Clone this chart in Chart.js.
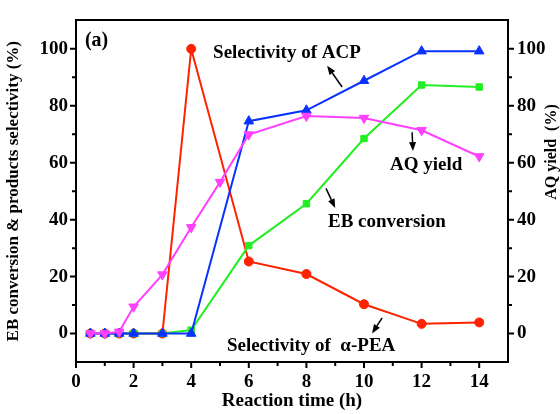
<!DOCTYPE html>
<html lang="en">
<head>
<meta charset="UTF-8">
<title>Reaction time</title>
<script src="https://cdn.jsdelivr.net/npm/chart.js"></script>
<style>
  body { margin: 0; background: #fff; }
</style>
</head>
<body>
<canvas id="myChart" width="560" height="414"></canvas>
<script>
// data
var times = [0.5, 1, 1.5, 2, 3, 4, 6, 8, 10, 12, 14];
var aqTimes = [0.5, 1, 1.5, 2, 3, 4, 5, 6, 8, 10, 12, 14];
var peaSelectivity = [0, 0, 0, 0, 0, 100, 25.3, 20.9, 10.3, 3.4, 3.9];
var ebConversion = [0, 0, 0, 0, 0, 1.2, 30.9, 45.6, 68.5, 87.3, 86.6];
var acpSelectivity = [0, 0, 0, 0, 0, 0, 74.6, 78.4, 88.8, 99.2, 99.2];
var aqYield = [0, 0, 0.6, 9.4, 20.7, 37.3, 53.2, 69.9, 76.4, 75.7, 71.4, 62.2];
var xTicks = [0, 2, 4, 6, 8, 10, 12, 14];
var yTicks = [0, 20, 40, 60, 80, 100];

var FONT = '"Liberation Serif", "Times New Roman", serif';

function points(xs, ys) {
    return xs.map(function (x, i) { return { x: x, y: ys[i] }; });
}

// text labels and arrows, placed in data units
var notes = [
    { text: '(a)', x: 0.31, y: 102.8, size: 20 },
    { text: 'Selectivity of ACP', x: 4.76, y: 98.6, size: 19 },
    { text: 'AQ yield', x: 10.9, y: 59, size: 19 },
    { text: 'EB conversion', x: 8.75, y: 39.3, size: 19 },
    { text: 'Selectivity of  \u03b1-PEA', x: 5.24, y: -4.5, size: 19 }
];
var arrows = [
    { from: [9.24, 86.6], to: [8.72, 94.1] },
    { from: [11.67, 70.7], to: [11.7, 64.1] },
    { from: [8.68, 51.0], to: [9.0, 44.1] },
    { from: [10.63, 5.5], to: [10.28, 0] }
];

var decorations = {
    id: 'decorations',
    afterDraw: function (chart) {
        var ctx = chart.ctx;
        var xs = chart.scales.x, ys = chart.scales.y;
        var area = chart.chartArea;
        ctx.save();
        ctx.strokeStyle = '#000';
        ctx.fillStyle = '#000';
        ctx.lineWidth = 2;

        // tick marks, outward, major + minor
        ctx.beginPath();
        for (var v = 0; v <= 14; v++) {
            var len = v % 2 === 0 ? 6 : 4;
            var px = xs.getPixelForValue(v);
            ctx.moveTo(px, area.bottom);
            ctx.lineTo(px, area.bottom + len);
        }
        for (var w = 0; w <= 100; w += 10) {
            var l = w % 20 === 0 ? 6 : 4;
            var py = ys.getPixelForValue(w);
            ctx.moveTo(area.left, py);
            ctx.lineTo(area.left - l, py);
            ctx.moveTo(area.right, py);
            ctx.lineTo(area.right + l, py);
        }
        ctx.stroke();

        // right axis title, reading bottom to top
        ctx.save();
        ctx.translate(552, 152);
        ctx.rotate(-Math.PI / 2);
        ctx.font = 'bold 16px ' + FONT;
        ctx.textAlign = 'center';
        ctx.textBaseline = 'middle';
        ctx.fillText('AQ yield  (%)', 0, 0);
        ctx.restore();

        // annotations
        ctx.textAlign = 'left';
        ctx.textBaseline = 'middle';
        notes.forEach(function (n) {
            ctx.font = 'bold ' + n.size + 'px ' + FONT;
            ctx.fillText(n.text, xs.getPixelForValue(n.x), ys.getPixelForValue(n.y));
        });

        ctx.lineWidth = 1.5;
        arrows.forEach(function (a) {
            var x1 = xs.getPixelForValue(a.from[0]), y1 = ys.getPixelForValue(a.from[1]);
            var x2 = xs.getPixelForValue(a.to[0]), y2 = ys.getPixelForValue(a.to[1]);
            var ang = Math.atan2(y2 - y1, x2 - x1);
            var hl = 9, hw = 3.5;
            var bx = x2 - hl * Math.cos(ang), by = y2 - hl * Math.sin(ang);
            ctx.beginPath();
            ctx.moveTo(x1, y1);
            ctx.lineTo(bx, by);
            ctx.stroke();
            ctx.beginPath();
            ctx.moveTo(x2, y2);
            ctx.lineTo(bx + hw * Math.sin(ang), by - hw * Math.cos(ang));
            ctx.lineTo(bx - hw * Math.sin(ang), by + hw * Math.cos(ang));
            ctx.closePath();
            ctx.fill();
        });
        ctx.restore();
    }
};

function series(label, xs, ys, color, style, radius, rotation, order) {
    return {
        label: label,
        data: points(xs, ys),
        borderColor: color,
        backgroundColor: color,
        borderWidth: 2,
        pointStyle: style,
        pointRadius: radius,
        pointRotation: rotation,
        pointBorderWidth: 1,
        order: order
    };
}

var tickFont = { family: FONT, size: 19, weight: 'bold' };
var border = { color: '#000', width: 2 };
var noGrid = { drawOnChartArea: false, drawTicks: false };

var ctx = document.getElementById('myChart').getContext('2d');
var myChart = new Chart(ctx, {
    type: 'line',
    data: {
        datasets: [
            series('Selectivity of \u03b1-PEA', times, peaSelectivity, '#ff2200', 'circle', 4.5, 0, 4),
            series('EB conversion', times, ebConversion, '#22ee22', 'rect', 4.5, 0, 3),
            series('Selectivity of ACP', times, acpSelectivity, '#0a32ff', 'triangle', 5.5, 0, 2),
            series('AQ yield', aqTimes, aqYield, '#ff40ff', 'triangle', 5.5, 180, 1)
        ]
    },
    options: {
        responsive: false,
        animation: false,
        layout: { padding: 0 },
        plugins: {
            legend: { display: false },
            tooltip: { enabled: false }
        },
        scales: {
            x: {
                type: 'linear', position: 'bottom', min: 0, max: 15,
                border: border, grid: noGrid,
                ticks: { font: tickFont, color: '#000', padding: 9 },
                afterBuildTicks: function (s) { s.ticks = xTicks.map(function (v) { return { value: v }; }); },
                afterFit: function (s) { s.height = 52; },
                title: {
                    display: true, text: 'Reaction time (h)', color: '#000',
                    font: { family: FONT, size: 19, weight: 'bold' },
                    padding: { top: 0, bottom: 2 }
                }
            },
            x2: {
                type: 'linear', position: 'top', min: 0, max: 15,
                border: border, grid: noGrid,
                ticks: { display: false },
                afterFit: function (s) { s.height = 16; }
            },
            y: {
                position: 'left', min: -10, max: 110,
                border: border, grid: noGrid,
                ticks: { font: tickFont, color: '#000', padding: 8 },
                afterBuildTicks: function (s) { s.ticks = yTicks.map(function (v) { return { value: v }; }); },
                afterFit: function (s) { s.width = 76; },
                title: {
                    display: true, text: 'EB conversion & products selectivity (%)', color: '#000',
                    font: { family: FONT, size: 17, weight: 'bold' },
                    padding: { top: 3, bottom: 0 }
                }
            },
            y2: {
                position: 'right', min: -10, max: 110,
                border: border, grid: noGrid,
                ticks: { font: tickFont, color: '#000', padding: 9 },
                afterBuildTicks: function (s) { s.ticks = yTicks.map(function (v) { return { value: v }; }); },
                afterFit: function (s) { s.width = 52; }
            }
        }
    },
    plugins: [decorations]
});
</script>
</body>
</html>
